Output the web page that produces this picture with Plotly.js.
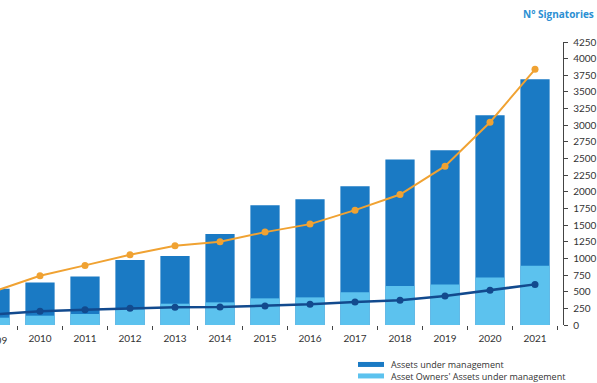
<!DOCTYPE html>
<html>
<head>
<meta charset="utf-8">
<script src="https://cdn.plot.ly/plotly-3.0.1.min.js"></script>
<style>html,body{margin:0;padding:0;background:#fff;}#chart{width:597px;height:383px;}</style>
</head>
<body>
<div id="chart"></div>
<script>
const years = ["2009","2010","2011","2012","2013","2014","2015","2016","2017","2018","2019","2020","2021"];
const aum = [545, 640, 730, 975, 1035, 1365, 1800, 1890, 2085, 2485, 2625, 3150, 3690];
const ownersAum = [110, 140, 165, 235, 320, 340, 400, 415, 490, 585, 610, 715, 890];
const signatories = [510, 740, 895, 1055, 1190, 1250, 1395, 1515, 1725, 1960, 2385, 3045, 3840];
const assetOwners = [160, 205, 230, 250, 265, 270, 285, 310, 345, 370, 435, 520, 610];
const yTicks = [0,250,500,750,1000,1250,1500,1750,2000,2250,2500,2750,3000,3250,3500,3750,4000,4250];

const darkBar = "#1a7ac4", lightBar = "#5cc2ee", orange = "#f0a232", navy = "#124a8e";

const traces = [
  {type:"bar", x:years, y:aum, name:"Assets under management", marker:{color:darkBar}, width:0.65, hoverinfo:"skip"},
  {type:"bar", x:years, y:ownersAum, name:"Asset Owners' Assets under management", marker:{color:lightBar}, width:0.65, hoverinfo:"skip"},
  {type:"scatter", mode:"lines+markers", x:years, y:signatories, name:"N° Signatories", line:{color:orange, width:2}, marker:{color:orange, size:7}},
  {type:"scatter", mode:"lines+markers", x:years, y:assetOwners, name:"N° Asset Owners", line:{color:navy, width:2.5}, marker:{color:navy, size:7}}
];

const W = 597, H = 383, L = 0, R = 34, T = 41.7, B = 58;
const pw = W - L - R, ph = H - T - B;
const px = v => (v - L) / pw;
const py = v => (H - B - v) / ph;

const layout = {
  width: W, height: H,
  margin: {l:L, r:R, t:T, b:B, pad:0},
  paper_bgcolor:"#fff", plot_bgcolor:"#fff",
  showlegend:false,
  barmode:"overlay",
  font:{family:"Lato, 'Open Sans', sans-serif", color:"#333", size:10},
  xaxis:{type:"category", range:[0.111, 12.622], tickson:"boundaries", ticks:"outside", ticklen:4, tickwidth:1, tickcolor:"#444",
         ticklabelstandoff:6,
         showline:false, showgrid:false, zeroline:false, tickfont:{size:10, color:"#333"}, fixedrange:true},
  yaxis:{side:"right", range:[0,4250], tickvals:yTicks, ticktext:yTicks.map(String), ticks:"outside", ticklen:4, tickwidth:1, tickcolor:"#444",
         ticklabelstandoff:3,
         showline:true, linecolor:"#444", linewidth:1.2, showgrid:false, zeroline:false, tickfont:{size:10, color:"#333"}, fixedrange:true},
  shapes:[
    {type:"rect", xref:"paper", yref:"paper", x0:px(358), x1:px(384), y0:py(362), y1:py(367), fillcolor:darkBar, line:{width:0}},
    {type:"rect", xref:"paper", yref:"paper", x0:px(358), x1:px(384), y0:py(373.5), y1:py(378.5), fillcolor:lightBar, line:{width:0}}
  ],
  annotations:[
    {xref:"paper", yref:"paper", x:px(-5), y:py(340), xanchor:"center", yanchor:"middle", showarrow:false,
     text:years[0], font:{size:10, color:"#333"}},
    {xref:"paper", yref:"paper", x:px(596), y:py(14), xanchor:"right", yanchor:"middle", showarrow:false,
     text:"<b>N° Signatories</b>", font:{size:10, color:"#2b8fd3", family:"'Open Sans', sans-serif"}},
    {xref:"paper", yref:"paper", x:px(389), y:py(364.5), xanchor:"left", yanchor:"middle", showarrow:false,
     text:"Assets under management", font:{size:9, color:"#333", family:"'Open Sans', sans-serif"}},
    {xref:"paper", yref:"paper", x:px(389), y:py(377), xanchor:"left", yanchor:"middle", showarrow:false,
     text:"Asset Owners' Assets under management", font:{size:9, color:"#333", family:"'Open Sans', sans-serif"}}
  ]
};

Plotly.newPlot("chart", traces, layout, {displayModeBar:false, staticPlot:true});
</script>
</body>
</html>
